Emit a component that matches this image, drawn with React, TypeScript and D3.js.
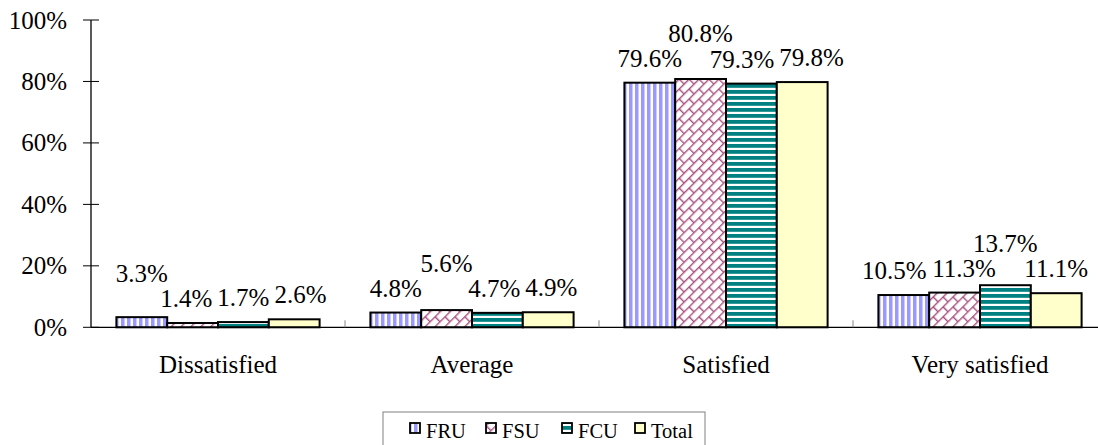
import React from "react";
import * as d3 from "d3";

const categories = ["Dissatisfied", "Average", "Satisfied", "Very satisfied"];
const seriesNames = ["FRU", "FSU", "FCU", "Total"];
const FRU = [3.3, 4.8, 79.6, 10.5];
const FSU = [1.4, 5.6, 80.8, 11.3];
const FCU = [1.7, 4.7, 79.3, 13.7];
const TOTAL = [2.6, 4.9, 79.8, 11.1];
const seriesValues = [FRU, FSU, FCU, TOTAL];
const yTicks = [0, 20, 40, 60, 80, 100];

const W = 1098;
const H = 445;
const FONT = "Tinos";
const FS = 25;

const fills = ["url(#pFRU)", "url(#pFSU)", "url(#pFCU)", "#ffffcc"];

function charW(c: string) {
  if (c >= "0" && c <= "9") return 0.5;
  if (c === ".") return 0.25;
  if (c === "%") return 0.833;
  return 0.5;
}
function textW(s: string, fs: number) {
  let w = 0;
  for (const c of s) w += charW(c);
  return w * fs;
}

export default function App() {
  const left = 91;
  const catW = 254;
  const x0 = d3
    .scaleBand<string>()
    .domain(categories)
    .range([left, left + catW * categories.length])
    .paddingInner(0)
    .paddingOuter(0);
  const x1 = d3
    .scaleBand<string>()
    .domain(seriesNames)
    .range([0, x0.bandwidth()])
    .paddingOuter(0.5)
    .paddingInner(0);
  const y = d3.scaleLinear().domain([0, 100]).range([327.3, 20]);
  const baseY = y(0);

  type Lab = { x: number; y: number; w: number; h: number; text: string; v: number };
  const groups: Lab[][] = categories.map((c, ci) =>
    seriesNames.map((s, si) => {
      const v = seriesValues[si][ci];
      const text = v.toFixed(1) + "%";
      return {
        x: (x0(c) as number) + (x1(s) as number) + x1.bandwidth() / 2,
        y: y(v) - 16,
        w: textW(text, FS),
        h: 17,
        text,
        v,
      };
    })
  );
  const pad = 5;
  const maxX = W - 6;
  const hOver = (a: Lab, b: Lab) => a.x + a.w / 2 + pad - (b.x - b.w / 2);
  const vOver = (a: Lab, b: Lab) => Math.min(a.y, b.y) - Math.max(a.y - a.h, b.y - b.h);
  for (const g of groups) {
    let mi = 0;
    g.forEach((l, i) => {
      if (l.v > g[mi].v) mi = i;
    });
    const m = g[mi];
    const nb = [g[mi - 1], g[mi + 1]].filter(Boolean) as Lab[];
    if (nb.some((n) => (n.x < m.x ? hOver(n, m) : hOver(m, n)) > 0)) {
      const top = Math.min(...nb.map((n) => n.y));
      m.y = Math.min(m.y, top - m.h - 8);
    }
    for (let it = 0; it < 300; it++) {
      for (let i = 0; i < g.length; i++) {
        for (let j = i + 1; j < g.length; j++) {
          const a = g[i];
          const b = g[j];
          const ox = hOver(a, b);
          if (ox > 0 && vOver(a, b) > 0) {
            a.x -= ox / 2;
            b.x += ox / 2;
          }
        }
      }
      for (const l of g) {
        if (l.x + l.w / 2 > maxX) l.x = maxX - l.w / 2;
        if (l.x - l.w / 2 < left + 6) l.x = left + 6 + l.w / 2;
      }
    }
  }

  const legendX = [410, 486, 562, 635];
  const txt = { fontFamily: FONT, fontSize: `${FS}px` };
  const legTxt = { fontFamily: FONT, fontSize: "20.5px" };

  return (
    <svg width={W} height={H} style={{ position: "fixed", left: 0, top: 0, background: "#fff" }}>
      <defs>
        <pattern id="pFRU" width={6} height={6} patternUnits="userSpaceOnUse">
          <rect width={6} height={6} fill="#ffffff" />
          <rect width={3.5} height={6} fill="#9999ff" />
        </pattern>
        <pattern id="pFCU" width={6} height={6} patternUnits="userSpaceOnUse">
          <rect width={6} height={6} fill="#ffffff" />
          <rect width={6} height={3.8} fill="#008080" />
        </pattern>
        <pattern
          id="pFSU"
          width={14}
          height={14}
          patternUnits="userSpaceOnUse"
          patternTransform="rotate(-45)"
        >
          <rect width={14} height={14} fill="#ffffff" />
          <g stroke="#a9507f" strokeWidth={1.4} fill="none">
            <line x1={0} y1={0.7} x2={14} y2={0.7} />
            <line x1={0} y1={7.7} x2={14} y2={7.7} />
            <line x1={0.7} y1={0} x2={0.7} y2={7} />
            <line x1={7.7} y1={7} x2={7.7} y2={14} />
          </g>
        </pattern>
      </defs>

      {/* bars */}
      {categories.map((c, ci) => (
        <g key={c} transform={`translate(${x0(c)},0)`}>
          {seriesNames.map((s, si) => {
            const v = seriesValues[si][ci];
            return (
              <rect
                key={s}
                x={x1(s)}
                y={y(v)}
                width={x1.bandwidth()}
                height={baseY - y(v)}
                fill={fills[si]}
                stroke="#000"
                strokeWidth={2}
              />
            );
          })}
        </g>
      ))}

      {/* y axis */}
      <line x1={left} x2={left} y1={y(100)} y2={baseY} stroke="#000" strokeWidth={1.3} />
      {yTicks.map((t) => (
        <g key={t}>
          <line x1={left - 8} x2={left + 8} y1={y(t)} y2={y(t)} stroke="#000" strokeWidth={1} />
          <text x={67} y={y(t) + 8.5} textAnchor="end" style={txt}>
            {`${t}%`}
          </text>
        </g>
      ))}

      {/* x axis */}
      <line x1={left} x2={W} y1={baseY} y2={baseY} stroke="#000" strokeWidth={1.3} />
      {categories.slice(1).map((c) => (
        <line
          key={c}
          x1={x0(c)}
          x2={x0(c)}
          y1={baseY - 7}
          y2={baseY}
          stroke="#888"
          strokeWidth={1}
        />
      ))}
      {categories.map((c) => (
        <text
          key={c}
          x={(x0(c) as number) + x0.bandwidth() / 2}
          y={373}
          textAnchor="middle"
          style={txt}
        >
          {c}
        </text>
      ))}

      {/* data labels */}
      {groups.flat().map((l, i) => (
        <text key={i} x={l.x} y={l.y} textAnchor="middle" style={txt}>
          {l.text}
        </text>
      ))}

      {/* legend */}
      <rect x={383} y={412} width={322} height={40} fill="#fff" stroke="#808080" strokeWidth={1} />
      {seriesNames.map((s, si) => (
        <g key={s}>
          <rect
            x={legendX[si]}
            y={423}
            width={10}
            height={10}
            fill={fills[si]}
            stroke="#000"
            strokeWidth={1.8}
          />
          <text x={legendX[si] + 16} y={438} style={legTxt}>
            {s}
          </text>
        </g>
      ))}
    </svg>
  );
}
